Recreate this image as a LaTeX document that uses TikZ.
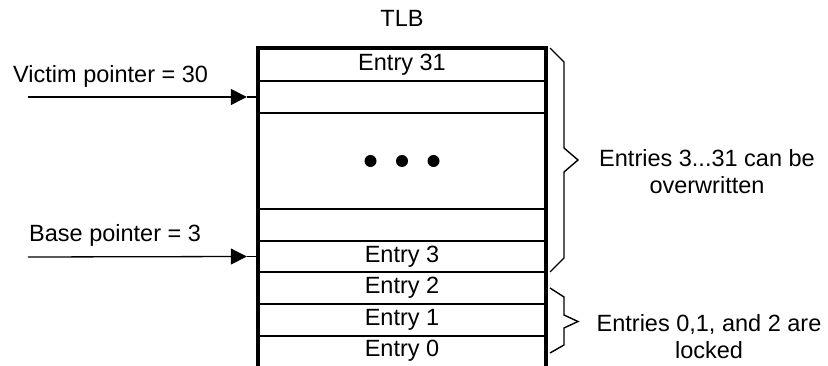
\documentclass[tikz,border=0pt]{standalone}
\usepackage{fontspec}
\setmainfont{Liberation Sans}
\usetikzlibrary{arrows.meta}
\begin{document}
\begin{tikzpicture}[x=1pt,y=-1pt,
  every node/.style={font=\fontsize{23.5}{26.5}\selectfont, inner sep=0pt},
  tlbrow/.style={minimum width=288pt, anchor=center},
  sepline/.style={line width=1.8pt},
  outerline/.style={line width=4pt, line join=miter},
  ptr/.style={line width=1.3pt, -{Triangle[length=16pt,width=16pt]}},
  ptrstub/.style={line width=1.3pt},
  bracepath/.style={line width=1.4pt, line join=miter},
  dotmark/.style={circle, fill=black, minimum size=12pt}
]
\useasboundingbox[fill=white] (0,0) rectangle (828,366);

% TLB rows
\node[tlbrow, minimum height=33pt] (e31) at (402,64.5) {Entry 31};
\node[tlbrow, minimum height=32pt] (e30) at (402,97) {};
\node[tlbrow, minimum height=96pt] (emid) at (402,161) {};
\node[tlbrow, minimum height=32pt] (e4) at (402,225) {};
\node[tlbrow, minimum height=31pt] (e3) at (402,256.5) {Entry 3};
\node[tlbrow, minimum height=32pt] (e2) at (402,288) {Entry 2};
\node[tlbrow, minimum height=32pt] (e1) at (402,320) {Entry 1};
\node[tlbrow, minimum height=30pt] (e0) at (402,351) {Entry 0};

\foreach \r in {e31,e30,emid,e4,e3,e2,e1}
  \draw[sepline] (\r.south west) -- (\r.south east);
\draw[outerline] ([yshift=-6pt]e0.south west) -- (e31.north west) -- (e31.north east) -- ([yshift=-6pt]e0.south east);

% dots
\node[dotmark] (d1) at ([xshift=-31.5pt]emid.center) {};
\node[dotmark] (d2) at (emid.center) {};
\node[dotmark] (d3) at ([xshift=31.5pt]emid.center) {};

% title
\node[anchor=base] (tlb) at (402,26.5) {TLB};

% pointers
\node[anchor=base west] (vlab) at (13,83) {Victim pointer = 30};
\coordinate (vstart) at (28,97);
\draw[ptr] (vstart) -- ([xshift=-11pt]e30.west);
\draw[ptrstub] ([xshift=-11pt]e30.west) -- (e30.west);

\node[anchor=base west] (blab) at (29,242) {Base pointer = 3};
\coordinate (bstart) at (28,257);
\draw[ptr] (bstart) -- ([xshift=-11pt]e3.west);
\draw[ptrstub] ([xshift=-11pt]e3.west) -- (e3.west);

% braces
\draw[bracepath] (550,48) -- (564,62) -- (564,148) -- (578,160) -- (564,172) -- (564,258) -- (550,272);
\draw[bracepath] (550,288) -- (564,297) -- (564,315) -- (578,321.5) -- (564,328) -- (564,345) -- (550,353);

% brace labels
\node[anchor=north, align=center] (ovr) at (707,149.5) {Entries 3...31 can be\\overwritten};
\node[anchor=north, align=center] (lck) at (709,314.5) {Entries 0,1, and 2 are\\locked};
\end{tikzpicture}
\end{document}
